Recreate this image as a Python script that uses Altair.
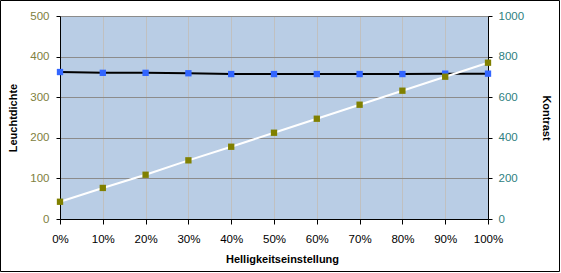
import altair as alt
import pandas as pd

helligkeit = [0, 10, 20, 30, 40, 50, 60, 70, 80, 90, 100]
leuchtdichte = [362, 360, 360, 359, 357, 357, 357, 357, 357, 358, 358]
kontrast = [85, 153, 218, 289, 356, 425, 494, 563, 632, 701, 770]

df = pd.DataFrame({"pct": helligkeit, "lum": leuchtdichte, "con": kontrast})

FONT = "Liberation Sans"

x_enc = alt.X(
    "pct:Q",
    scale=alt.Scale(domain=[0, 100], nice=False, zero=True),
    axis=alt.Axis(
        title="Helligkeitseinstellung",
        values=helligkeit,
        labelExpr="datum.value + '%'",
        labelFlush=False, labelOverlap=False,
        grid=True, gridColor="#C0C0C0", gridWidth=1,
        domainColor="black", tickColor="black", tickSize=5,
        labelPadding=9, labelFontSize=11.5, labelFont=FONT, labelColor="black",
        titleFont=FONT, titleFontSize=11, titleFontWeight="bold", titleColor="black",
        titlePadding=9, titleX=222,
    ),
)

base = alt.Chart(df).encode(x=x_enc)

y_lum = alt.Y(
    "lum:Q",
    scale=alt.Scale(domain=[0, 500], nice=False),
    axis=alt.Axis(
        title="Leuchtdichte", values=[0, 100, 200, 300, 400, 500], format="d",
        labelFlush=False,
        grid=True, gridColor="#8C8C8C", gridWidth=1,
        domainColor="black", tickColor="black", tickSize=4,
        labelPadding=7, labelFontSize=11.5, labelFont=FONT, labelColor="#808040",
        titleFont=FONT, titleFontSize=11, titleFontWeight="bold", titleColor="black",
        titlePadding=11,
    ),
)

y_con = alt.Y(
    "con:Q",
    scale=alt.Scale(domain=[0, 1000], nice=False),
    axis=alt.Axis(
        title="Kontrast", orient="right", values=[0, 200, 400, 600, 800, 1000],
        format="d", labelFlush=False,
        grid=False,
        domainColor="black", tickColor="black", tickSize=4,
        labelPadding=6, labelFontSize=11.5, labelFont=FONT, labelColor="#2E8080",
        titleFont=FONT, titleFontSize=11, titleFontWeight="bold", titleColor="black",
        titlePadding=17,
    ),
)

lum_line = base.mark_line(color="black", strokeWidth=2).encode(y=y_lum)
lum_pts = base.mark_square(size=40, color="#3366FF", opacity=1).encode(y=y_lum)
con_line = base.mark_line(color="white", strokeWidth=2).encode(y=y_con)
con_pts = base.mark_square(size=40, color="#808000", opacity=1).encode(y=y_con)

frame = alt.Chart(pd.DataFrame({"f": [0]})).mark_rect(
    fill=None, stroke="black", strokeWidth=1, clip=False
).encode(
    x=alt.value(-59.5), x2=alt.value(499.5),
    y=alt.value(-15.5), y2=alt.value(255.5),
)

chart = alt.layer(
    alt.layer(lum_line, lum_pts),
    alt.layer(con_line, con_pts),
    frame,
).resolve_scale(y="independent").properties(
    width=428, height=203,
    autosize=alt.AutoSizeParams(type="none"),
    padding={"left": 60, "top": 16, "right": 73, "bottom": 54},
    background="white",
).configure_view(
    fill="#B9CDE5", stroke=None
)

chart.save("out.html", embed_options={"renderer": "svg", "actions": False})
